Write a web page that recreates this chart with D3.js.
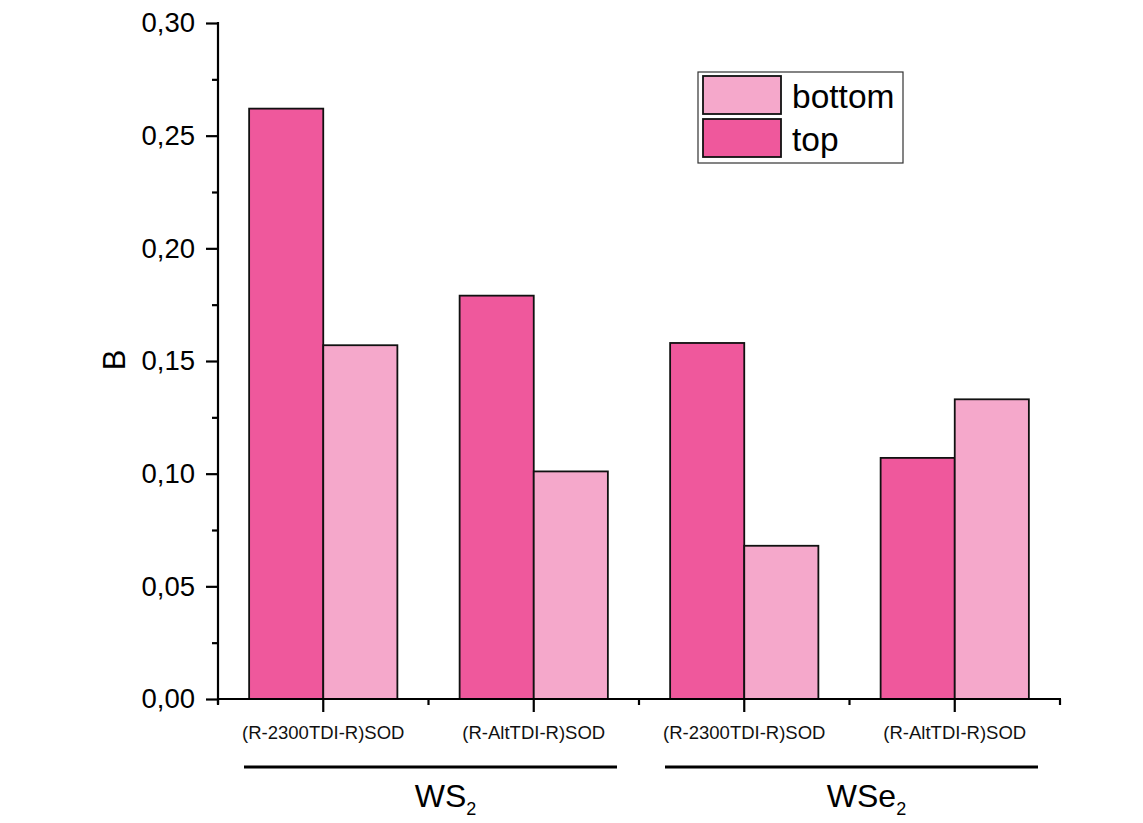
<!DOCTYPE html>
<html><head><meta charset="utf-8">
<script src="https://cdn.jsdelivr.net/npm/d3@7"></script>
<style>body{margin:0;background:#fff}svg{display:block}svg text{font-family:"Liberation Sans",Arial,sans-serif}</style>
</head><body><svg id="c" width="1143" height="823"></svg>
<script>
const categories = ["WS2|(R-2300TDI-R)SOD","WS2|(R-AltTDI-R)SOD","WSe2|(R-2300TDI-R)SOD","WSe2|(R-AltTDI-R)SOD"];
const categoryLabels = ["(R-2300TDI-R)SOD","(R-AltTDI-R)SOD","(R-2300TDI-R)SOD","(R-AltTDI-R)SOD"];
const groups = [{name:"WS", sub:"2", from:0, to:1},{name:"WSe", sub:"2", from:2, to:3}];
const seriesNames = ["top","bottom"];
const topValues = [0.262, 0.179, 0.158, 0.107];
const bottomValues = [0.157, 0.101, 0.068, 0.133];
const yTicks = [0,0.05,0.10,0.15,0.20,0.25,0.30];
const yMinorTicks = [0.025,0.075,0.125,0.175,0.225,0.275];
const colors = {top:"#ef589c", bottom:"#f5a8cb"};

const svg = d3.select("#c");
const L = 218, R = 1060, T = 23, B = 699;
const x = d3.scaleBand().domain(categories).range([L, R]).paddingInner(0).paddingOuter(0);
const y = d3.scaleLinear().domain([0, 0.30]).range([B, T]);
const xs = d3.scaleBand().domain(seriesNames).range([0, x.bandwidth()]).paddingInner(0).paddingOuter(0.42);

const data = categories.map((c,i)=>({cat:c, top:topValues[i], bottom:bottomValues[i]}));
const g = svg.append("g");
data.forEach(d=>{
  seriesNames.forEach(s=>{
    g.append("rect")
      .attr("x", x(d.cat)+xs(s))
      .attr("y", y(d[s]))
      .attr("width", xs.bandwidth())
      .attr("height", y(0)-y(d[s]))
      .attr("fill", colors[s])
      .attr("stroke", "#111").attr("stroke-width", 1.8);
  });
});

// y axis
const fmt = v => d3.format(".2f")(v).replace(".", ",");
const yAxis = d3.axisLeft(y).tickValues(yTicks).tickFormat(fmt).tickSize(12).tickSizeOuter(0).tickPadding(11);
const ya = svg.append("g").attr("transform", `translate(${L},0)`).call(yAxis);
ya.attr("font-family", null).attr("font-size", null);
ya.select(".domain").remove();
ya.selectAll("line").attr("stroke","#000").attr("stroke-width",2.2);
ya.selectAll("text").attr("font-size",27.5).attr("fill","#000");
const ym = d3.axisLeft(y).tickValues(yMinorTicks).tickFormat("").tickSize(6).tickSizeOuter(0);
const yma = svg.append("g").attr("transform", `translate(${L},0)`).call(ym);
yma.select(".domain").remove();
yma.selectAll("line").attr("stroke","#000").attr("stroke-width",2.2);
svg.append("line").attr("x1",L).attr("x2",L).attr("y1",T-1).attr("y2",B+5).attr("stroke","#000").attr("stroke-width",2.2);

// x axis
const xAxis = d3.axisBottom(x).tickFormat((d,i)=>categoryLabels[i]).tickSize(13).tickSizeOuter(0).tickPadding(14);
const xa = svg.append("g").attr("transform", `translate(0,${B})`).call(xAxis);
xa.attr("font-family", null).attr("font-size", null);
xa.select(".domain").remove();
xa.selectAll("line").attr("stroke","#000").attr("stroke-width",2.2);
xa.selectAll("text").attr("font-size",18.5).attr("fill","#111");
const bounds = d3.range(categories.length+1).map(i=>L + i*x.step());
svg.append("g").selectAll("line").data(bounds).join("line")
  .attr("x1",d=>d).attr("x2",d=>d).attr("y1",B).attr("y2",B+6)
  .attr("stroke","#000").attr("stroke-width",2.2);
svg.append("line").attr("x1",L-1).attr("x2",R+1).attr("y1",B).attr("y2",B).attr("stroke","#000").attr("stroke-width",2.2);

// group lines & labels
groups.forEach(gr=>{
  const x0 = x(categories[gr.from]) + 26;
  const x1 = x(categories[gr.to]) + x.bandwidth() - 22;
  svg.append("line").attr("x1",x0).attr("x2",x1).attr("y1",767).attr("y2",767).attr("stroke","#000").attr("stroke-width",3);
  const t = svg.append("text").attr("x",(x0+x1)/2 + 15).attr("y",807).attr("text-anchor","middle").attr("font-size",32).attr("fill","#000");
  t.append("tspan").text(gr.name);
  t.append("tspan").attr("font-size",18).attr("dy",8).text(gr.sub);
});

// y label
svg.append("text").attr("transform","translate(125,360) rotate(-90)").attr("text-anchor","middle")
  .attr("font-size",31).attr("fill","#000").text("B");

// legend
const lg = svg.append("g");
lg.append("rect").attr("x",698).attr("y",72).attr("width",205).attr("height",91).attr("fill","#fff").attr("stroke","#333").attr("stroke-width",1.2);
const legendItems = ["bottom","top"];
legendItems.forEach((s,i)=>{
  lg.append("rect").attr("x",703).attr("y",76+i*43).attr("width",78).attr("height",38)
    .attr("fill",colors[s]).attr("stroke","#111").attr("stroke-width",1.8);
  lg.append("text").attr("x",792).attr("y",108+i*43).attr("font-size",33.5).attr("fill","#000").text(s);
});
</script></body></html>
